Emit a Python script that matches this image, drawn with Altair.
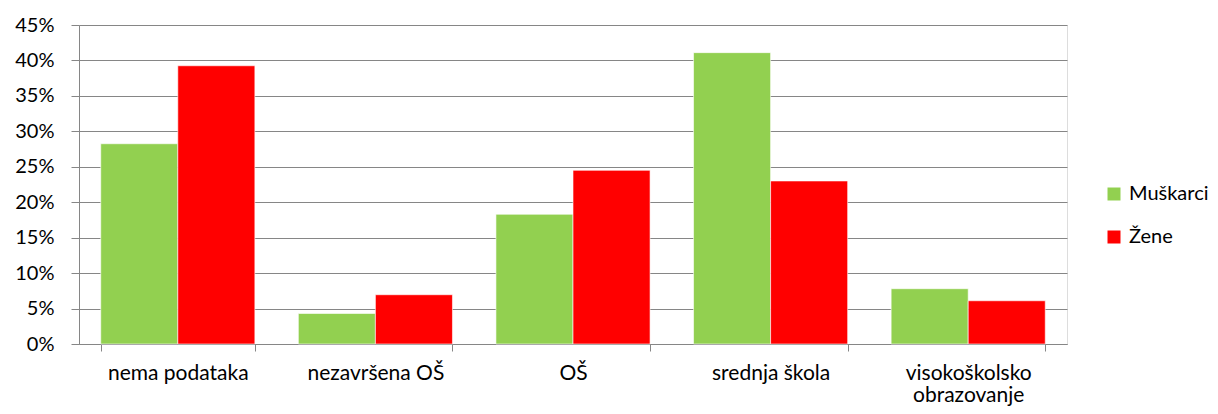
import altair as alt
import pandas as pd

categories = ["nema podataka", "nezavršena OŠ", "OŠ", "srednja škola", "visokoškolsko obrazovanje"]
muskarci = [0.2825, 0.043, 0.183, 0.411, 0.078]
zene = [0.3925, 0.0695, 0.245, 0.230, 0.061]
series = ["Muškarci", "Žene"]
colors = ["#92D050", "#FF0000"]
y_ticks = [0, 0.05, 0.10, 0.15, 0.20, 0.25, 0.30, 0.35, 0.40, 0.45]

rows = []
for c, m, z in zip(categories, muskarci, zene):
    rows.append({"kategorija": c, "serija": series[0], "vrijednost": m})
    rows.append({"kategorija": c, "serija": series[1], "vrijednost": z})
df = pd.DataFrame(rows)

FONT = "Lato"
FS = 20

chart = alt.Chart(df).mark_bar(stroke="white", strokeWidth=0.6).encode(
    x=alt.X("kategorija:N", sort=categories, title=None,
            scale=alt.Scale(paddingInner=0.22, paddingOuter=0.11),
            axis=alt.Axis(labelAngle=0, tickBand="extent", tickSize=7,
                          labelPadding=11, labelFontSize=21, labelColor="#000000",
                          labelFont=FONT, domainColor="#868686", tickColor="#868686",
                          labelLineHeight=22, labelBaseline="top",
                          labelExpr="datum.label == 'visokoškolsko obrazovanje' ? ['visokoškolsko', 'obrazovanje'] : datum.label",
                          grid=False)),
    xOffset=alt.XOffset("serija:N", sort=series),
    y=alt.Y("vrijednost:Q", title=None,
            scale=alt.Scale(domain=[0, 0.45], nice=False, zero=True),
            axis=alt.Axis(values=y_ticks, format=".0%", tickSize=8, labelPadding=17,
                          labelFontSize=FS, labelColor="#000000", labelFont=FONT,
                          domainColor="#868686", tickColor="#868686",
                          gridColor="#868686", gridWidth=1, grid=True)),
    color=alt.Color("serija:N", sort=series, title=None,
                    scale=alt.Scale(domain=series, range=colors),
                    legend=alt.Legend(orient="none", legendX=1025, legendY=159,
                                      symbolType="square", symbolSize=169,
                                      symbolStrokeWidth=0, labelFontSize=FS,
                                      labelFont=FONT, labelColor="#000000",
                                      labelOffset=5, rowPadding=23, labelLimit=300)),
).properties(
    width=988, height=319,
    autosize=alt.AutoSizeParams(type="none"),
    padding={"left": 71, "top": 17, "right": 143, "bottom": 62},
).configure_view(stroke=None).configure(background="white")

chart.save("out.html", embed_options={"renderer": "svg", "actions": False})
